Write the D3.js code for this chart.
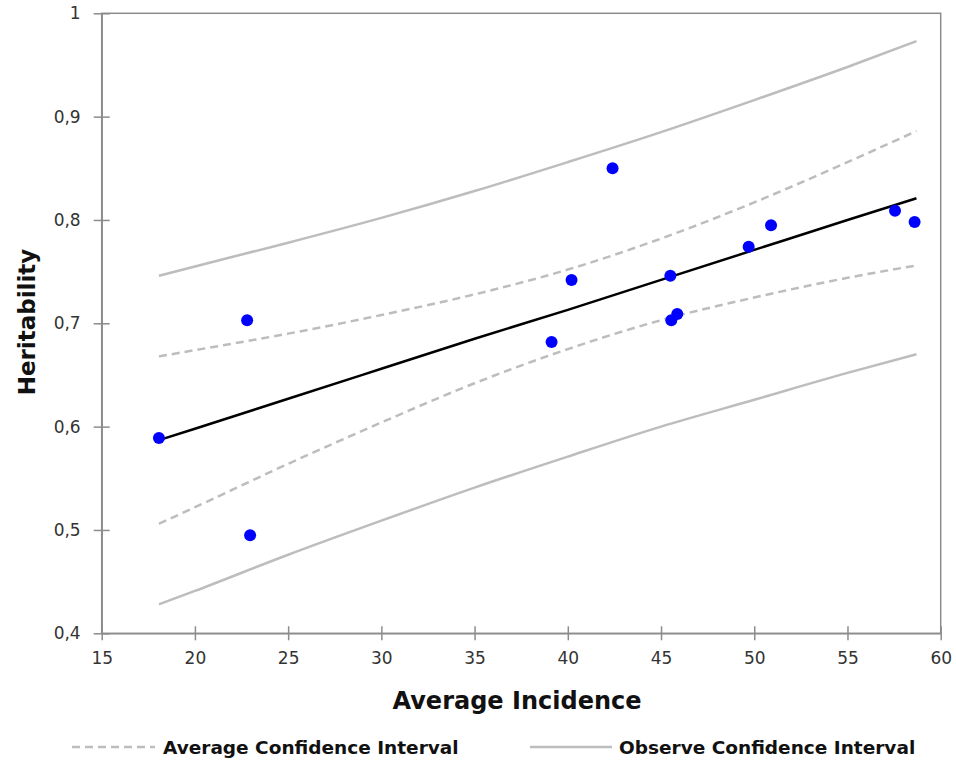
<!DOCTYPE html>
<html>
<head>
<meta charset="utf-8">
<script src="https://cdn.jsdelivr.net/npm/d3@7"></script>
<style>
  html, body { margin: 0; padding: 0; background: #fff; }
  svg { display: block; }
</style>
</head>
<body>
<svg id="chart" width="956" height="763"></svg>
<script>
// ---- Data ----
const incidence    = [18.07, 22.8, 22.96, 39.13, 40.2, 42.4, 45.5, 45.55, 45.87, 49.7, 50.9, 57.55, 58.6];
const heritability = [0.589, 0.703, 0.495, 0.682, 0.742, 0.850, 0.746, 0.703, 0.709, 0.774, 0.795, 0.809, 0.798];

// x positions where the bands / trend line were read
const bandX      = [18.07, 20, 25, 30, 35, 40, 45, 50, 55, 58.7];
const trendY     = [0.587, 0.598, 0.627, 0.656, 0.685, 0.713, 0.742, 0.771, 0.800, 0.821];
const avgUpper   = [0.668, 0.674, 0.690, 0.708, 0.728, 0.752, 0.782, 0.817, 0.856, 0.886];
const avgLower   = [0.506, 0.522, 0.564, 0.604, 0.642, 0.675, 0.703, 0.725, 0.744, 0.756];
const obsUpper   = [0.746, 0.755, 0.778, 0.802, 0.828, 0.856, 0.885, 0.916, 0.948, 0.973];
const obsLower   = [0.428, 0.441, 0.476, 0.509, 0.541, 0.571, 0.600, 0.626, 0.652, 0.670];

const xTicks = [15, 20, 25, 30, 35, 40, 45, 50, 55, 60];
const yTicks = [0.4, 0.5, 0.6, 0.7, 0.8, 0.9, 1];

const xTitle = "Average Incidence";
const yTitle = "Heritability";
const legendLabels = ["Average Confidence Interval", "Observe Confidence Interval"];

// ---- Layout ----
const svg = d3.select("#chart");
const plotL = 101.7, plotR = 940.7, plotT = 13.3, plotB = 633.3;

const x = d3.scaleLinear().domain([15, 60]).range([plotL, plotR]);
const y = d3.scaleLinear().domain([0.4, 1]).range([plotB, plotT]);

const axisColor = "#8c8c8c";
const tickFont = "'DejaVu Sans', Verdana, sans-serif";
const titleFont = "'DejaVu Sans', Verdana, sans-serif";

// Plot frame
svg.append("rect")
  .attr("x", plotL).attr("y", plotT)
  .attr("width", plotR - plotL).attr("height", plotB - plotT)
  .attr("fill", "none").attr("stroke", axisColor).attr("stroke-width", 1.5);

// Axes
const xAxis = d3.axisBottom(x).tickValues(xTicks).tickSizeInner(7).tickSizeOuter(0).tickPadding(12)
  .tickFormat(d => String(d));
const gx = svg.append("g").attr("transform", `translate(0,${plotB})`).call(xAxis);
gx.select(".domain").attr("stroke", axisColor).attr("stroke-width", 1.5);
gx.selectAll(".tick line").attr("stroke", axisColor).attr("stroke-width", 1.5).attr("y1", -7).attr("y2", 7);
gx.selectAll(".tick text").attr("font-family", tickFont).attr("font-size", 17).attr("fill", "#333");

const yAxis = d3.axisLeft(y).tickValues(yTicks).tickSizeInner(8).tickSizeOuter(0).tickPadding(13)
  .tickFormat(d => d === 1 ? "1" : d3.format(".1f")(d).replace(".", ","));
const gy = svg.append("g").attr("transform", `translate(${plotL},0)`).call(yAxis);
gy.select(".domain").attr("stroke", axisColor).attr("stroke-width", 1.5);
gy.selectAll(".tick line").attr("stroke", axisColor).attr("stroke-width", 1.5).attr("x1", 8).attr("x2", -8);
gy.selectAll(".tick text").attr("font-family", tickFont).attr("font-size", 17).attr("fill", "#333");

// Lines
const line = d3.line().x(d => x(d[0])).y(d => y(d[1])).curve(d3.curveMonotoneX);
const zipBand = arr => bandX.map((v, i) => [v, arr[i]]);

const bandColor = "#bdbdbd";
[obsUpper, obsLower].forEach(arr => {
  svg.append("path").datum(zipBand(arr)).attr("d", line)
    .attr("fill", "none").attr("stroke", bandColor).attr("stroke-width", 2.5);
});
[avgUpper, avgLower].forEach(arr => {
  svg.append("path").datum(zipBand(arr)).attr("d", line)
    .attr("fill", "none").attr("stroke", bandColor).attr("stroke-width", 2.5)
    .attr("stroke-dasharray", "8,5");
});

// Trend line
svg.append("path").datum(zipBand(trendY)).attr("d", line)
  .attr("fill", "none").attr("stroke", "#000").attr("stroke-width", 2.5);

// Points
svg.append("g").selectAll("circle")
  .data(incidence.map((v, i) => [v, heritability[i]]))
  .join("circle")
  .attr("cx", d => x(d[0])).attr("cy", d => y(d[1])).attr("r", 6)
  .attr("fill", "#0000ff");

// Axis titles
svg.append("text")
  .attr("x", 517).attr("y", 709)
  .attr("text-anchor", "middle")
  .attr("font-family", titleFont).attr("font-weight", "bold").attr("font-size", 24)
  .attr("fill", "#111")
  .text(xTitle);

svg.append("text")
  .attr("transform", `translate(35,322) rotate(-90)`)
  .attr("text-anchor", "middle")
  .attr("font-family", titleFont).attr("font-weight", "bold").attr("font-size", 23)
  .attr("fill", "#111")
  .text(yTitle);

// Legend
const legY = 747;
const leg = svg.append("g");
leg.append("line").attr("x1", 72).attr("x2", 155).attr("y1", legY).attr("y2", legY)
  .attr("stroke", bandColor).attr("stroke-width", 2.5).attr("stroke-dasharray", "8,5");
leg.append("text").attr("x", 163).attr("y", legY + 6.5)
  .attr("font-family", titleFont).attr("font-weight", "bold").attr("font-size", 18.5)
  .attr("fill", "#111").text(legendLabels[0]);
leg.append("line").attr("x1", 530).attr("x2", 612).attr("y1", legY).attr("y2", legY)
  .attr("stroke", bandColor).attr("stroke-width", 2.5);
leg.append("text").attr("x", 619).attr("y", legY + 6.5)
  .attr("font-family", titleFont).attr("font-weight", "bold").attr("font-size", 18.5)
  .attr("fill", "#111").text(legendLabels[1]);
</script>
</body>
</html>
